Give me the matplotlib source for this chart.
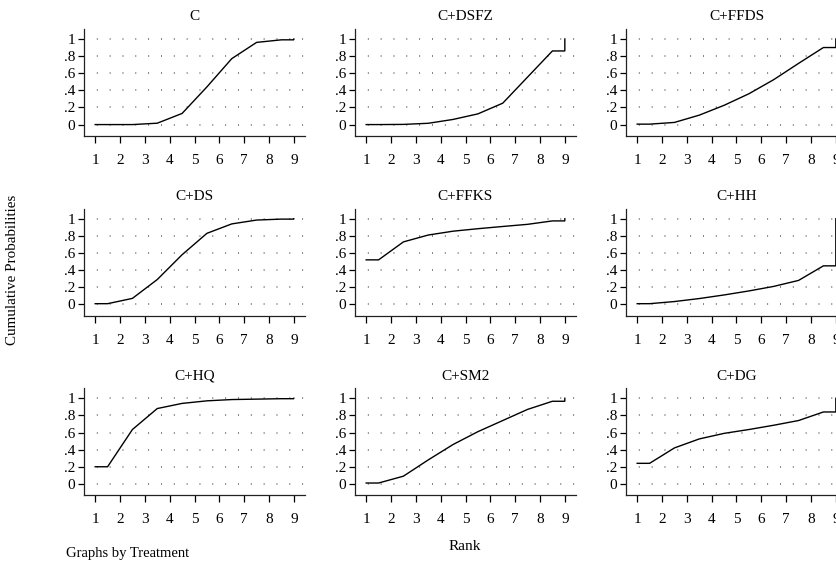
import numpy as np
import matplotlib
matplotlib.use("Agg")
import matplotlib.pyplot as plt

plt.rcParams["font.family"] = ["Liberation Serif", "DejaVu Serif"]

ranks = [1, 2, 3, 4, 5, 6, 7, 8, 9]
treatments = ["C", "C+DSFZ", "C+FFDS",
              "C+DS", "C+FFKS", "C+HH",
              "C+HQ", "C+SM2", "C+DG"]

# cumulative probability of being ranked <= r
cum_C = [0.0, 0.0, 0.016, 0.13, 0.44, 0.77, 0.96, 0.99, 1.0]
cum_DSFZ = [0.0, 0.002, 0.015, 0.06, 0.125, 0.25, 0.555, 0.86, 1.0]
cum_FFDS = [0.005, 0.025, 0.11, 0.225, 0.36, 0.525, 0.715, 0.90, 1.0]
cum_DS = [0.008, 0.07, 0.29, 0.58, 0.83, 0.94, 0.985, 0.996, 1.0]
cum_FFKS = [0.52, 0.73, 0.81, 0.855, 0.884, 0.91, 0.935, 0.975, 1.0]
cum_HH = [0.008, 0.033, 0.068, 0.11, 0.157, 0.21, 0.28, 0.45, 1.0]
cum_HQ = [0.2, 0.635, 0.88, 0.94, 0.97, 0.985, 0.99, 0.995, 1.0]
cum_SM2 = [0.01, 0.09, 0.28, 0.46, 0.61, 0.74, 0.87, 0.965, 1.0]
cum_DG = [0.24, 0.42, 0.525, 0.59, 0.635, 0.685, 0.74, 0.84, 1.0]

cums = [cum_C, cum_DSFZ, cum_FFDS, cum_DS, cum_FFKS, cum_HH, cum_HQ, cum_SM2, cum_DG]

W, H = 837, 569
fig = plt.figure(figsize=(W / 100, H / 100), dpi=100)

# --- panel layout (pixels) ---------------------------------------
col_left = [84, 355, 626]
row_top = [28.7, 208.5, 388]
ax_w, ax_h = 221, 107

for i, (name, c) in enumerate(zip(treatments, cums)):
    r, k = divmod(i, 3)
    left = col_left[k] / W
    bottom = 1 - (row_top[r] + ax_h) / H
    ax = fig.add_axes([left, bottom, ax_w / W, ax_h / H])

    # curve: value c[j] drawn at rank midpoints, last step closes to rank 9
    xs = [ranks[0]] + [rk + 0.5 for rk in ranks[:-1]] + [ranks[-1], ranks[-1]]
    ys = [c[0]] + c[:-1] + [c[-2], c[-1]]
    ax.plot(xs, ys, color="black", lw=1.0, solid_joinstyle="miter")

    ax.set_xlim(0.55, 9.45)
    ax.set_ylim(-0.13, 1.12)
    ax.set_xticks(ranks)
    ax.set_yticks([0, 0.2, 0.4, 0.6, 0.8, 1.0])
    ax.set_yticklabels(["0", ".2", ".4", ".6", ".8", "1"])
    ax.yaxis.grid(True, color="#555555", lw=1.1, linestyle=(0, (0.6, 7.8)))
    ax.set_axisbelow(True)

    for s in ["top", "right"]:
        ax.spines[s].set_visible(False)
    for s in ["left", "bottom"]:
        ax.spines[s].set_linewidth(0.9)
        ax.spines[s].set_color("#222222")

    ax.tick_params(axis="x", length=5, width=0.9, pad=8, labelsize=11)
    ax.tick_params(axis="y", length=4.5, width=0.9, pad=2, labelsize=11)
    ax.set_title(name, fontsize=11, pad=6)

fig.text(13 / W, 1 - 270 / H, "Cumulative Probabilities", rotation=90,
         ha="center", va="center", fontsize=10.8)
fig.text(465 / W, 1 - 546 / H, "Rank", ha="center", va="center", fontsize=11)
fig.text(66 / W, 1 - 554 / H, "Graphs by Treatment", ha="left", va="center",
         fontsize=10.5)

fig.savefig("out.png", dpi=100)
